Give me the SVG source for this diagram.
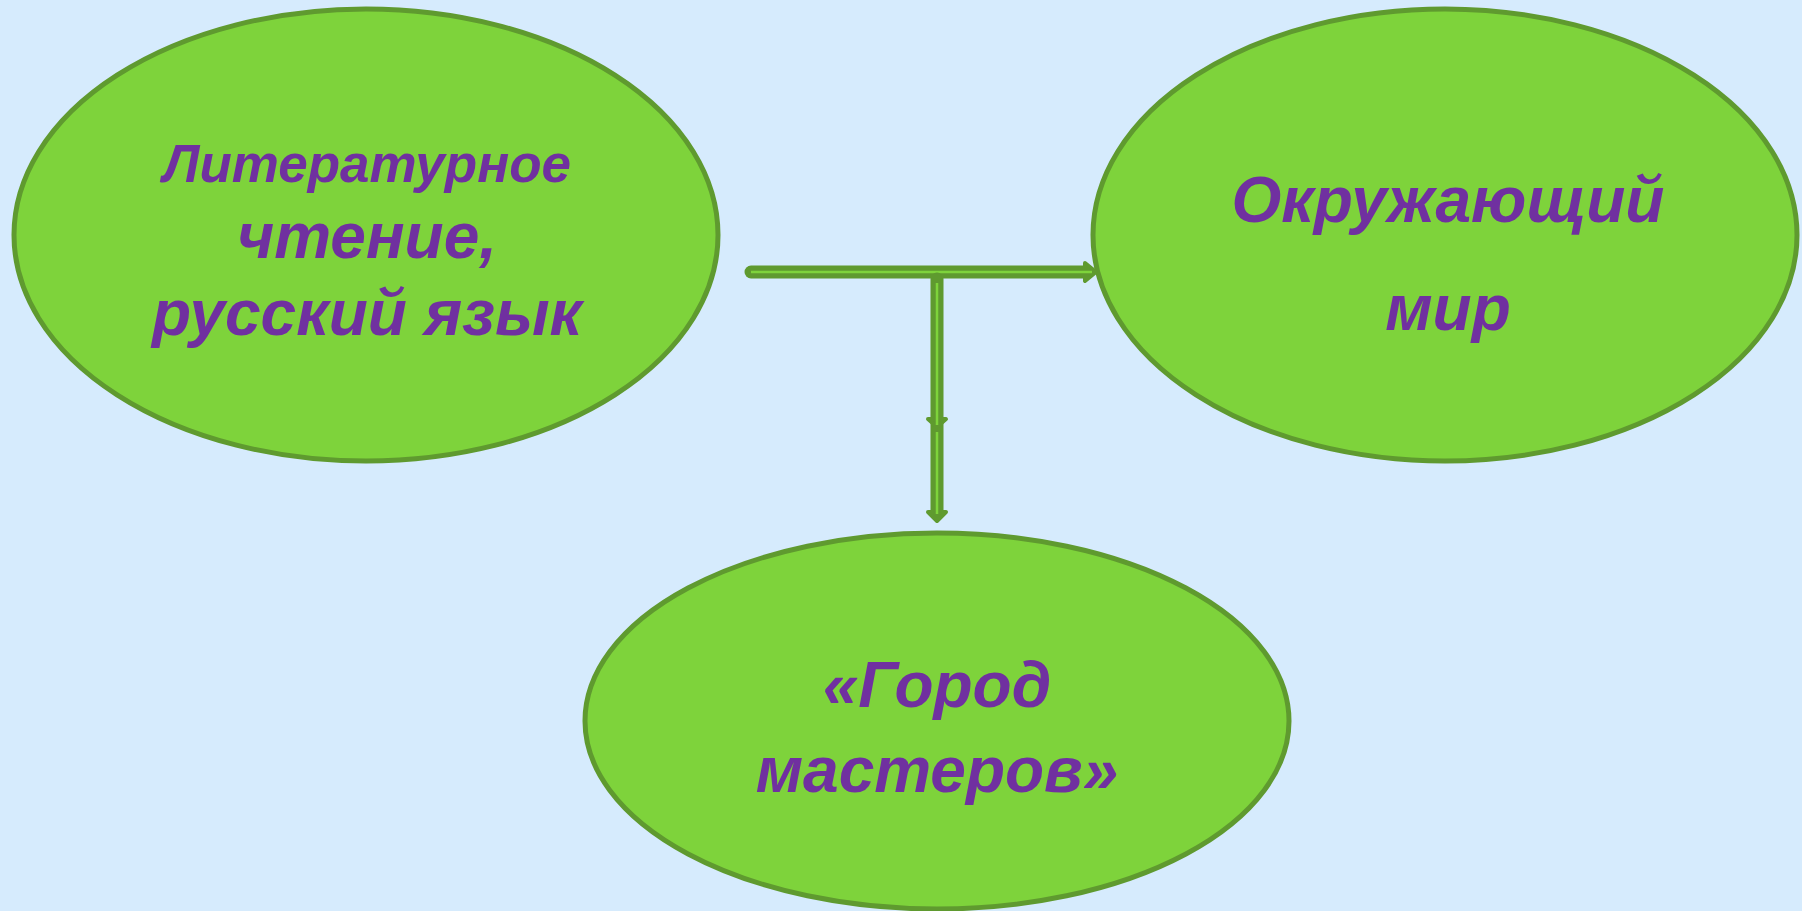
<svg xmlns="http://www.w3.org/2000/svg" width="1802" height="911" viewBox="0 0 1802 911">
<style>
.node{fill:#7ed33b;stroke:#5f9a2f;stroke-width:5}
.t{font-family:"Liberation Sans",Arial,sans-serif;font-weight:bold;font-style:italic;fill:#7030a0;text-anchor:middle}
.outer{stroke:#5f9a2f;stroke-width:13;fill:none;stroke-linecap:round}
.inner{stroke:#7ed33b;stroke-width:2.5;fill:none}
.head{fill:#5f9a2f;stroke:#5f9a2f;stroke-width:4;stroke-linejoin:round}
</style>
<rect width="1802" height="911" fill="#d6ebfd"/>
<g id="node-literature">
<ellipse class="node" cx="366" cy="235" rx="352" ry="226"/>
<text class="t" x="367" y="182" font-size="53">Литературное</text>
<text class="t" x="367" y="258" font-size="64">чтение,</text>
<text class="t" x="367" y="335" font-size="64">русский язык</text>
</g>
<g id="node-world">
<ellipse class="node" cx="1445" cy="235" rx="352" ry="226"/>
<text class="t" x="1448" y="222" font-size="64">Окружающий</text>
<text class="t" x="1448" y="330" font-size="64">мир</text>
</g>
<g id="node-city">
<ellipse class="node" cx="937" cy="721" rx="352" ry="188"/>
<text class="t" x="937" y="707" font-size="64">«Город</text>
<text class="t" x="937" y="792" font-size="64">мастеров»</text>
</g>
<g id="connectors">
<line class="outer" x1="751" y1="272" x2="1088" y2="272"/>
<polygon class="head" points="1085,263 1096,272 1085,281"/>
<line class="inner" x1="751" y1="272" x2="1092" y2="272"/>
<line class="outer" x1="937" y1="279" x2="937" y2="512" stroke-linecap="butt"/>
<polygon class="head" points="928,419 937,427 946,419"/>
<polygon class="head" points="928,512 937,521 946,512"/>
<line class="inner" x1="937" y1="283" x2="937" y2="425"/>
<line class="inner" x1="937" y1="432" x2="937" y2="514"/>
</g>
</svg>
